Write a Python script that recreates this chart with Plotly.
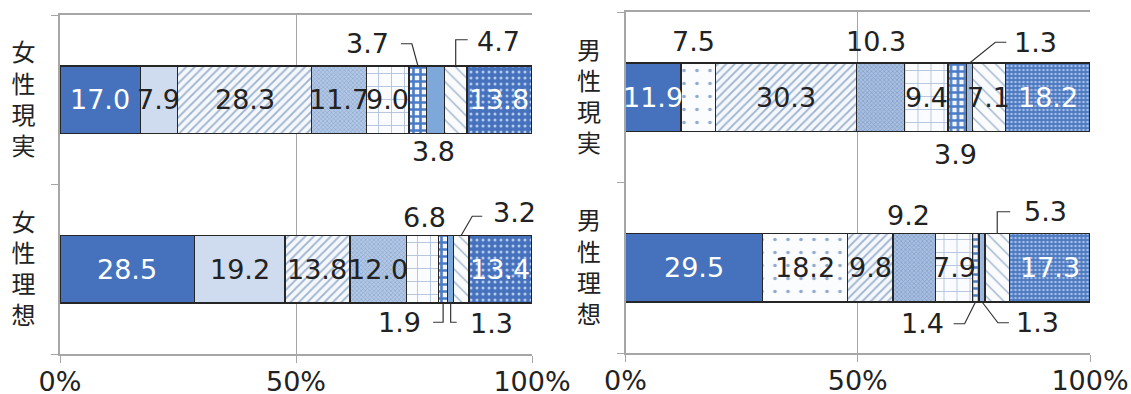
import plotly.graph_objects as go

# ---------------- data ----------------
categories_f = ["女性現実", "女性理想"]
categories_m = ["男性現実", "男性理想"]
female_real = [17.0, 7.9, 28.3, 11.7, 9.0, 3.7, 3.8, 4.7, 13.8]
female_ideal = [28.5, 19.2, 13.8, 12.0, 6.8, 1.9, 1.3, 3.2, 13.4]
male_real = [11.9, 7.5, 30.3, 10.3, 9.4, 3.9, 1.3, 7.1, 18.2]
male_ideal = [29.5, 18.2, 9.8, 9.2, 7.9, 1.4, 1.3, 5.3, 17.3]
x_tickvals = [0, 50, 100]
x_ticktext = ["0%", "50%", "100%"]

# ---------------- styles ----------------
NUM_FONT = "DejaVu Sans"
CJK_FONT = "Noto Sans CJK JP"
DARK = "#4672bd"
NUM_SIZE = 27


def pat(shape, fg, bg, size, sol):
    return dict(shape=shape, fgcolor=fg, bgcolor=bg, size=size, solidity=sol, fillmode="replace")


styles_f = [
    dict(color=DARK, pattern=None, txt="white"),
    dict(color="#cfdbef", pattern=None, txt="#222"),
    dict(color="white", pattern=pat("/", "#9cb2cf", "#f4f7fb", 6, 0.3), txt="#222"),
    dict(color="white", pattern=pat("x", "#86a3cb", "#b4c8e6", 3, 0.35), txt="#222"),
    dict(color="white", pattern=pat("+", "#a9bcd6", "#fafcff", 13, 0.12), txt="#222"),
    dict(color="white", pattern=pat("+", "#4a7bc6", "#f2f6fc", 7, 0.6), txt="#222"),
    dict(color="#7ea8da", pattern=None, txt="#222"),
    dict(color="white", pattern=pat("\\", "#9cb0cb", "#fafbfd", 9, 0.15), txt="#222"),
    dict(color="white", pattern=pat(".", "#b6cbec", DARK, 6, 0.2), txt="white"),
]
styles_m = [dict(s) for s in styles_f]
styles_m[1] = dict(color="white", pattern=pat(".", "#8fa8cc", "#fbfcfe", 13, 0.06), txt="#222")
styles_m[3] = dict(color="white", pattern=pat("x", "#7f9dc8", "#a9bfe0", 3, 0.4), txt="#222")
styles_m[6] = dict(color="#9db8de", pattern=None, txt="#222")
styles_m[8] = dict(color="white", pattern=pat(".", "#a4bde6", "#4b78c0", 4, 0.35), txt="white")

# label placement: None -> inside; (dx px, dy px up, leader path in px rel. to segment centre)
place_f_real = [None, None, None, None, None,
                (-50, 56, "M0,34 L-6,56 L-17,56"),
                (-2, -52, None),
                (43, 58, "M0,34 L0,60 L12,60"),
                None]
place_f_ideal = [None, None, None, None,
                 (2, 52, None),
                 (-44, -53, "M0,-34 L0,-53 L-10,-53"),
                 (41, -54, "M0,-34 L0,-53 L6,-53"),
                 (53, 57, "M0,34 L11,53 L21,53"),
                 None]
place_m_real = [None, (-5, 56, None), None, (-5, 56, None), None,
                (-2, -57, None),
                (66, 55, "M0,34 L26,55 L37,55"),
                None, None]
place_m_ideal = [None, None, None,
                 (-6, 52, None), None,
                 (-53, -56, "M0,-34 L-11,-56 L-22,-56"),
                 (56, -55, "M0,-34 L16,-55 L27,-55"),
                 (48, 56, "M0,34 L0,56 L13,56"),
                 None]

fig = go.Figure()
annotations = []
shapes = []


def add_panel(cats, rows, styles, places, xa, ya):
    xref = "x" if xa == "xaxis" else "x2"
    yref = "y" if ya == "yaxis" else "y2"
    n = len(rows[0])
    for i in range(n):
        st = styles[i]
        marker = dict(color=st["color"], line=dict(color="#262626", width=1.5))
        if st["pattern"] is not None:
            marker["pattern"] = st["pattern"]
        fig.add_trace(go.Bar(
            y=cats, x=[r[i] for r in rows], orientation="h", marker=marker,
            xaxis=xref, yaxis=yref, showlegend=False, hoverinfo="x+y",
        ))
    for cat, r, pl in zip(cats, rows, places):
        tot = sum(r)
        cum = 0.0
        for i, v in enumerate(r):
            start = cum / tot * 100
            cum += v
            end = cum / tot * 100
            mid = (start + end) / 2
            p = pl[i]
            txtcol = styles[i]["txt"] if p is None else "#222"
            dx, dy = (0, 0) if p is None else (p[0], p[1])
            annotations.append(dict(
                x=mid, y=cat, xref=xref, yref=yref, text=f"{v:.1f}", showarrow=False,
                xshift=dx, yshift=dy, font=dict(family=NUM_FONT, size=NUM_SIZE, color=txtcol),
            ))
            if p is not None and p[2]:
                shapes.append(dict(
                    type="path", xref=xref, yref=yref, xsizemode="pixel", ysizemode="pixel",
                    xanchor=mid, yanchor=cat, path=p[2],
                    line=dict(color="#333", width=1.2),
                ))


add_panel(categories_f, [female_real, female_ideal], styles_f, [place_f_real, place_f_ideal], "xaxis", "yaxis")
add_panel(categories_m, [male_real, male_ideal], styles_m, [place_m_real, place_m_ideal], "xaxis2", "yaxis2")

W, H = 1131, 394
xcommon = dict(range=[0, 100], tickvals=x_tickvals, ticktext=x_ticktext, showgrid=True,
               gridcolor="#a6a6a6", gridwidth=1.3, showline=True, linecolor="#a6a6a6", linewidth=1.5,
               mirror=True, ticks="outside", ticklen=7, tickcolor="#a6a6a6", automargin=False,
               ticklabelstandoff=-4,
               tickfont=dict(family=NUM_FONT, size=NUM_SIZE, color="#222"), zeroline=False, fixedrange=True)
ycommon = dict(type="category", autorange="reversed", showgrid=False, showline=True,
               linecolor="#a6a6a6", linewidth=1.5, ticks="outside", ticklen=7, tickcolor="#a6a6a6",
               tickson="boundaries", tickfont=dict(family=CJK_FONT, size=24, color="#222"),
               ticklabelstandoff=18, fixedrange=True, automargin=False)

fig.update_layout(
    width=W, height=H, margin=dict(l=0, r=0, t=0, b=0),
    paper_bgcolor="white", plot_bgcolor="white",
    barmode="stack", barnorm="percent", bargap=0.6, showlegend=False,
    xaxis=dict(xcommon, domain=[60 / W, 532 / W], anchor="y"),
    xaxis2=dict(xcommon, domain=[625.5 / W, 1090 / W], anchor="y2"),
    yaxis=dict(ycommon, domain=[1 - 354 / H, 1 - 15 / H], anchor="x",
               tickvals=categories_f, ticktext=["<br>".join(c) for c in categories_f]),
    yaxis2=dict(ycommon, domain=[1 - 353 / H, 1 - 12 / H], anchor="x2",
                tickvals=categories_m, ticktext=["<br>".join(c) for c in categories_m]),
    annotations=annotations, shapes=shapes,
)

fig.write_html("out.html")
